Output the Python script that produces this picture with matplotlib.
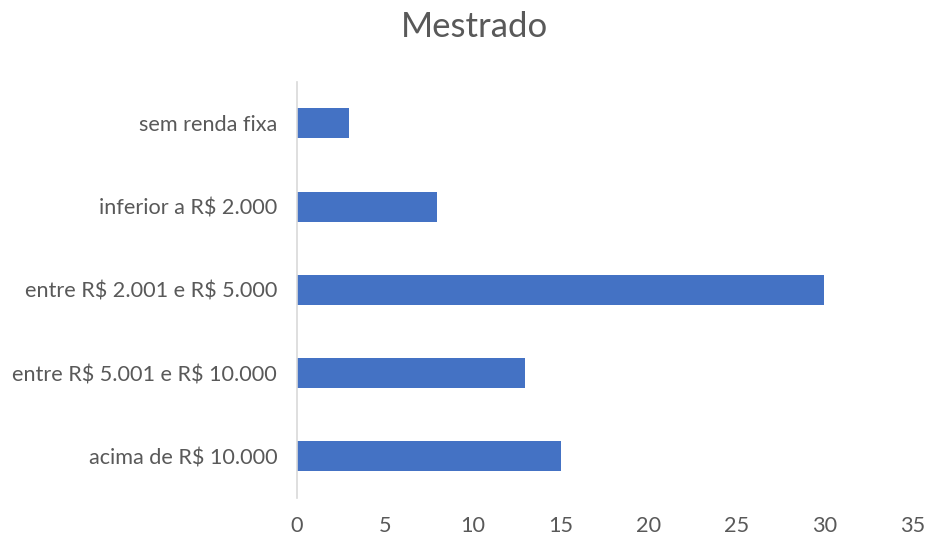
import matplotlib.pyplot as plt

# dados
categorias = ["acima de R$ 10.000", "entre R$ 5.001 e R$ 10.000",
              "entre R$ 2.001 e R$ 5.000", "inferior a R$ 2.000", "sem renda fixa"]
valores = [15, 13, 30, 8, 3]
xticks = [0, 5, 10, 15, 20, 25, 30, 35]

plt.rcParams['font.family'] = ['Lato', 'DejaVu Sans']
plt.rcParams['text.parse_math'] = False

fig = plt.figure(figsize=(9.3, 5.42), dpi=100)
ax = fig.add_axes([0.319, 0.081, 0.662, 0.768])

ax.barh(range(len(categorias)), valores, height=0.36, color="#4472C4")

ax.set_xlim(0, 35)
ax.set_ylim(-0.5, len(categorias) - 0.5)
ax.set_xticks(xticks)
ax.set_yticks(range(len(categorias)))
ax.set_yticklabels(categorias)

for s in ["top", "right", "bottom"]:
    ax.spines[s].set_visible(False)
ax.spines["left"].set_color("#D9D9D9")
ax.spines["left"].set_linewidth(1.2)

ax.tick_params(axis="both", length=0, labelsize=15.6, colors="#595959")
ax.tick_params(axis="x", pad=13)
ax.tick_params(axis="y", pad=14)

fig.suptitle("Mestrado", x=0.51, y=0.98, fontsize=25, color="#595959")

fig.savefig("out.png", dpi=100)
